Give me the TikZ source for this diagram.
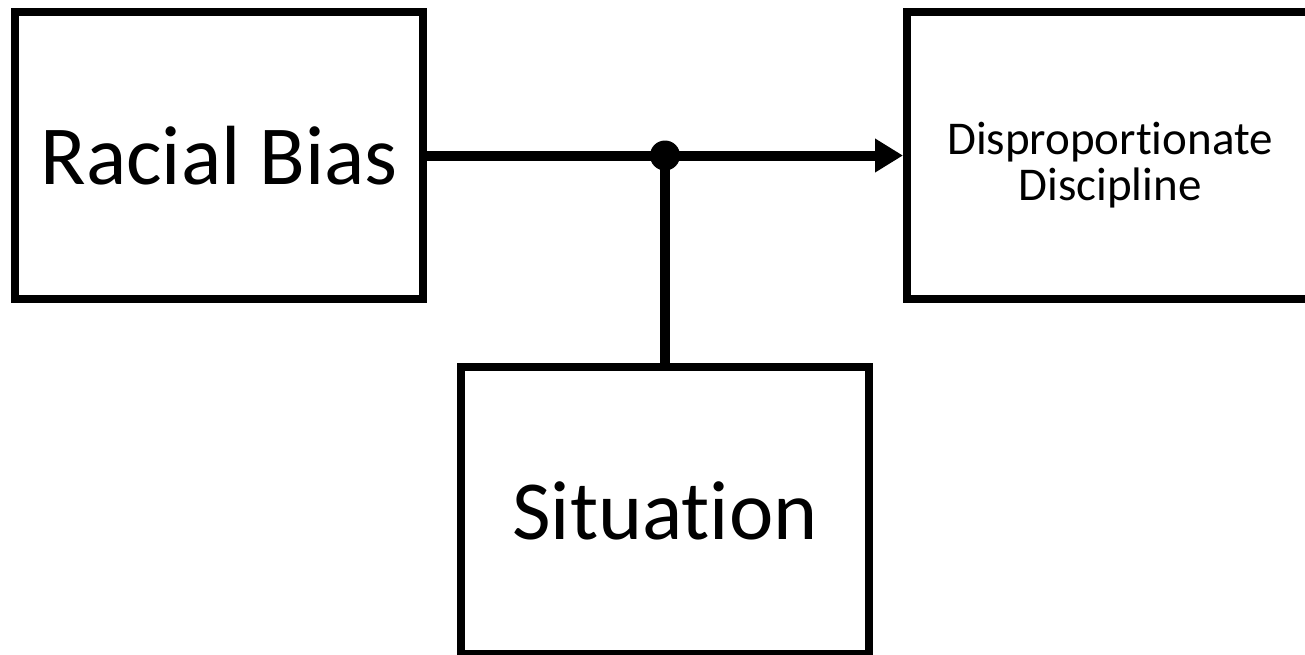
\documentclass[tikz,border=0pt]{standalone}
\usepackage{fontspec}
\setmainfont[RawFeature={-liga;-clig;-dlig}]{Carlito}
\usetikzlibrary{arrows.meta}
\tikzset{
  box/.style={draw=black, line width=4pt, rectangle, minimum width=204pt, minimum height=143.5pt, inner sep=0pt, align=center},
  bigtext/.style={font=\fontsize{42}{50}\selectfont},
  smalltext/.style={font=\fontsize{23.5}{23}\selectfont, align=center, inner sep=0pt},
  link/.style={draw=black, line width=5pt},
  joint/.style={circle, fill=black, minimum size=15pt, inner sep=0pt}
}
\begin{document}
\begin{tikzpicture}[x=0.5pt,y=-0.5pt]
\useasboundingbox (0,0) rectangle (1305,654);
\clip (0,0) rectangle (1305,654);
\node[box, bigtext] (racial) at (219,155.5) {Racial Bias};
\node[box, minimum width=203pt] (disp) at (1110,155.5) {};
\node[smalltext] (disptext) at (1110,165) {Disproportionate\\Discipline};
\node[box, bigtext] (sit) at (665,510.5) {Situation};
\coordinate (j) at (racial.east -| sit.north);
\node[joint] (dot) at (j) {};
\draw[link] (sit.north) -- (dot.center);
\draw[link, -{Triangle[length=14pt, width=16pt]}] (racial.east) -- (disp.west);
\end{tikzpicture}
\end{document}
